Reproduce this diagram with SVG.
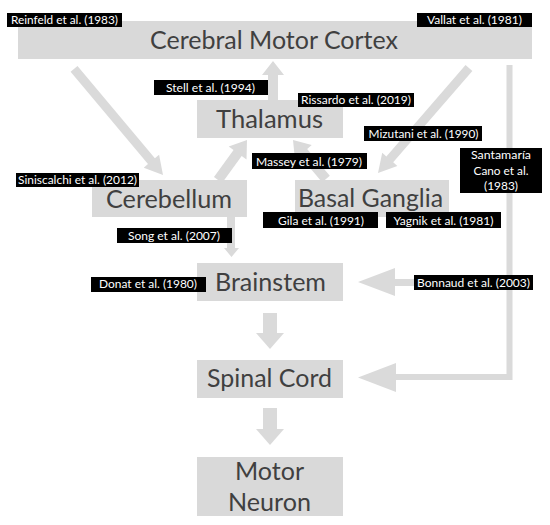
<svg xmlns="http://www.w3.org/2000/svg" width="550" height="525" viewBox="0 0 550 525">
<style>
.box{fill:#d9d9d9}
.arr{fill:#dadada}
.ln{fill:none;stroke:#dadada}
.big{font-family:Lato,"Open Sans","Liberation Sans",sans-serif;font-size:25px;fill:#404040;text-anchor:middle}
.lb{fill:#000}
.lt{font-family:Lato,"Open Sans","Liberation Sans",sans-serif;font-size:11.5px;fill:#fff;text-anchor:middle}
</style>
<rect width="550" height="525" fill="#fff"/>
<g id="connectors">
  <polygon class="arr" transform="translate(163,175) rotate(50)" points="-138.4,-4.5 -18,-4.5 -18,-10 0,0 -18,10 -18,4.5 -138.4,4.5"/>
  <polygon class="arr" transform="translate(247,140) rotate(-54.1)" points="-49.4,-5 -16,-5 -16,-11 0,0 -16,11 -16,5 -49.4,5"/>
  <polygon class="arr" transform="translate(293,140) rotate(-130.2)" points="-51.1,-5 -16,-5 -16,-11 0,0 -16,11 -16,5 -51.1,5"/>
  <polygon class="arr" transform="translate(378,173) rotate(130.9)" points="-138.9,-4.5 -18,-4.5 -18,-10 0,0 -18,10 -18,4.5 -138.9,4.5"/>
  <polygon class="arr" points="268,100 268,75 262,75 273,61 284,75 278,75 278,100"/>
  <polygon class="arr" points="227,217 227,248 224,248 231.5,257 239,248 235,248 235,217"/>
  <polygon class="arr" points="263,313 263,333 256,333 270,349 284,333 277,333 277,313"/>
  <polygon class="arr" points="263,408 263,429 256,429 270,445 284,429 277,429 277,408"/>
  <polygon class="arr" points="509,279 395,279 395,268 358,282 395,296 395,286 509,286"/>
  <polyline class="ln" stroke-width="6" points="509.5,65 509.5,377 394,377"/>
  <polygon class="arr" points="396,363 358,377.5 396,392"/>
</g>
<g id="cortex">
  <rect class="box" x="18" y="21" width="514" height="38"/>
  <text class="big" x="274" y="49" textLength="248" lengthAdjust="spacingAndGlyphs">Cerebral Motor Cortex</text>
</g>
<g id="thalamus">
  <rect class="box" x="197" y="100" width="146" height="38"/>
  <text class="big" x="269.5" y="128" textLength="107" lengthAdjust="spacingAndGlyphs">Thalamus</text>
</g>
<g id="cerebellum">
  <rect class="box" x="92" y="180" width="155" height="37"/>
  <text class="big" x="169" y="208" textLength="126" lengthAdjust="spacingAndGlyphs">Cerebellum</text>
</g>
<g id="basal-ganglia">
  <rect class="box" x="295" y="180" width="154" height="37"/>
  <text class="big" x="370.5" y="207" textLength="145" lengthAdjust="spacingAndGlyphs">Basal Ganglia</text>
</g>
<g id="brainstem">
  <rect class="box" x="197" y="263" width="146" height="38"/>
  <text class="big" x="270.5" y="291" textLength="111" lengthAdjust="spacingAndGlyphs">Brainstem</text>
</g>
<g id="spinal-cord">
  <rect class="box" x="197" y="360" width="146" height="38"/>
  <text class="big" x="269.5" y="387" textLength="125" lengthAdjust="spacingAndGlyphs">Spinal Cord</text>
</g>
<g id="motor-neuron">
  <rect class="box" x="197" y="457" width="146" height="59"/>
  <text class="big" x="269.5" y="480" textLength="69" lengthAdjust="spacingAndGlyphs">Motor</text>
  <text class="big" x="269.5" y="511" textLength="83" lengthAdjust="spacingAndGlyphs">Neuron</text>
</g>
<g id="labels">
  <g id="lbl-reinfeld"><rect class="lb" x="7" y="13" width="115" height="14"/><text class="lt" x="64.5" y="24" textLength="107" lengthAdjust="spacingAndGlyphs">Reinfeld et al. (1983)</text></g>
  <g id="lbl-vallat"><rect class="lb" x="417" y="13" width="115" height="14"/><text class="lt" x="474.5" y="24" textLength="95" lengthAdjust="spacingAndGlyphs">Vallat et al. (1981)</text></g>
  <g id="lbl-stell"><rect class="lb" x="154" y="80" width="114" height="15"/><text class="lt" x="210.5" y="92" textLength="89" lengthAdjust="spacingAndGlyphs">Stell et al. (1994)</text></g>
  <g id="lbl-rissardo"><rect class="lb" x="298" y="93" width="116" height="14"/><text class="lt" x="356" y="104" textLength="110" lengthAdjust="spacingAndGlyphs">Rissardo et al. (2019)</text></g>
  <g id="lbl-mizutani"><rect class="lb" x="364" y="126" width="118" height="15"/><text class="lt" x="423.5" y="138" textLength="110" lengthAdjust="spacingAndGlyphs">Mizutani et al. (1990)</text></g>
  <g id="lbl-massey"><rect class="lb" x="252" y="153" width="115" height="16"/><text class="lt" x="309" y="166" textLength="106" lengthAdjust="spacingAndGlyphs">Massey et al. (1979)</text></g>
  <g id="lbl-siniscalchi"><rect class="lb" x="16" y="173" width="123" height="14"/><text class="lt" x="77.5" y="184" textLength="119" lengthAdjust="spacingAndGlyphs">Siniscalchi et al. (2012)</text></g>
  <g id="lbl-santamaria"><rect class="lb" x="460" y="148" width="82" height="45"/>
    <text class="lt" font-size="12.5" x="501" y="159" textLength="60" lengthAdjust="spacingAndGlyphs">Santamaría</text>
    <text class="lt" font-size="12.5" x="501" y="175" textLength="55" lengthAdjust="spacingAndGlyphs">Cano et al.</text>
    <text class="lt" font-size="12.5" x="501" y="190" textLength="34" lengthAdjust="spacingAndGlyphs">(1983)</text></g>
  <g id="lbl-gila"><rect class="lb" x="263" y="212" width="115" height="16"/><text class="lt" x="321" y="225" textLength="86" lengthAdjust="spacingAndGlyphs">Gila et al. (1991)</text></g>
  <g id="lbl-yagnik"><rect class="lb" x="386" y="212" width="115" height="16"/><text class="lt" x="443.5" y="225" textLength="100" lengthAdjust="spacingAndGlyphs">Yagnik et al. (1981)</text></g>
  <g id="lbl-song"><rect class="lb" x="117" y="228" width="115" height="15"/><text class="lt" x="174" y="240" textLength="92" lengthAdjust="spacingAndGlyphs">Song et al. (2007)</text></g>
  <g id="lbl-donat"><rect class="lb" x="91" y="277" width="115" height="15"/><text class="lt" x="148" y="288" textLength="98" lengthAdjust="spacingAndGlyphs">Donat et al. (1980)</text></g>
  <g id="lbl-bonnaud"><rect class="lb" x="414" y="275" width="119" height="15"/><text class="lt" x="473.5" y="287" textLength="113" lengthAdjust="spacingAndGlyphs">Bonnaud et al. (2003)</text></g>
</g>
</svg>
